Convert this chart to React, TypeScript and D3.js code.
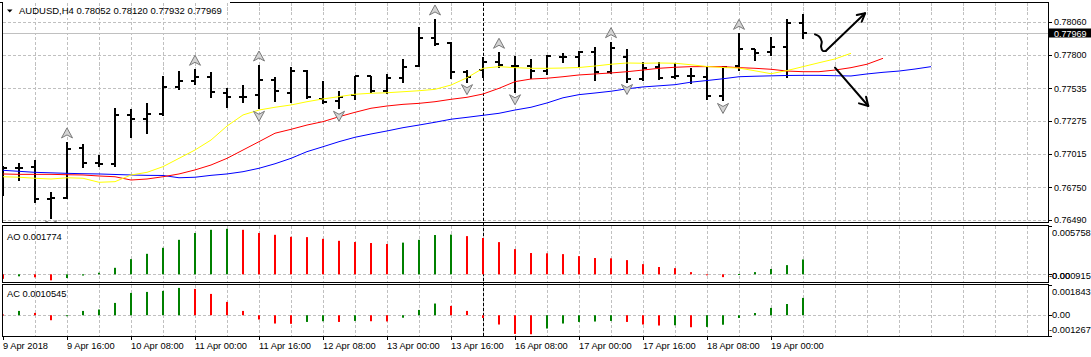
import React from 'react';
import * as d3 from 'd3';

const SYMBOL = 'AUDUSD,H4';
const TIME_LABELS = ['9 Apr 2018', '9 Apr 16:00', '10 Apr 08:00', '11 Apr 00:00', '11 Apr 16:00', '12 Apr 08:00', '13 Apr 00:00', '13 Apr 16:00', '16 Apr 08:00', '17 Apr 00:00', '17 Apr 16:00', '18 Apr 08:00', '19 Apr 00:00'];
const TIME_LABEL_STEP = 4;
const PRICE_TICKS = [0.78060, 0.77800, 0.77535, 0.77275, 0.77015, 0.76750, 0.76490];

const OPEN = [0.76887,0.76902,0.76910,0.76657,0.76665,0.77061,0.76942,0.76934,0.77323,0.77291,0.77327,0.77545,0.77595,0.77624,0.77497,0.77465,0.77481,0.77600,0.77497,0.77671,0.77450,0.77434,0.77481,0.77632,0.77515,0.77618,0.77714,0.77931,0.77894,0.77666,0.77679,0.77745,0.77714,0.77711,0.77674,0.77780,0.77780,0.77820,0.77666,0.77785,0.77608,0.77706,0.77622,0.77632,0.77626,0.77476,0.77714,0.77844,0.77820,0.77864,0.78052];
const HIGH = [0.76918,0.76942,0.76966,0.76714,0.77109,0.77093,0.77005,0.77376,0.77374,0.77415,0.77632,0.77671,0.77685,0.77666,0.77534,0.77560,0.77719,0.77624,0.77706,0.77679,0.77592,0.77515,0.77632,0.77632,0.77648,0.77764,0.78023,0.78084,0.77904,0.77679,0.77785,0.77820,0.77790,0.77764,0.77798,0.77817,0.77832,0.77864,0.77904,0.77844,0.77745,0.77745,0.77737,0.77693,0.77706,0.77711,0.77970,0.77844,0.77939,0.78081,0.78120];
const LOW = [0.76688,0.76807,0.76635,0.76508,0.76661,0.76914,0.76922,0.76918,0.77151,0.77182,0.77319,0.77526,0.77566,0.77468,0.77388,0.77428,0.77376,0.77434,0.77428,0.77455,0.77415,0.77376,0.77447,0.77507,0.77499,0.77587,0.77711,0.77878,0.77614,0.77587,0.77622,0.77706,0.77507,0.77614,0.77648,0.77745,0.77706,0.77600,0.77653,0.77588,0.77600,0.77606,0.77614,0.77579,0.77446,0.77438,0.77679,0.77759,0.77798,0.77626,0.77932];
const CLOSE = [0.76902,0.76902,0.76657,0.76665,0.77053,0.76944,0.76934,0.77323,0.77291,0.77328,0.77542,0.77592,0.77626,0.77505,0.77468,0.77468,0.77600,0.77515,0.77671,0.77463,0.77426,0.77468,0.77632,0.77515,0.77614,0.77706,0.77931,0.77883,0.77666,0.77626,0.77745,0.77719,0.77714,0.77674,0.77790,0.77780,0.77820,0.77666,0.77851,0.77606,0.77693,0.77614,0.77632,0.77632,0.77476,0.77706,0.77844,0.77817,0.77859,0.78050,0.77969];

// Alligator lines, one value per time slot from the first bar (they run past the last bar)
const LIPS = [0.76833,0.76829,0.76821,0.76815,0.76825,0.76821,0.76789,0.76794,0.76847,0.76868,0.76913,0.76979,0.77045,0.77124,0.77235,0.77323,0.77362,0.77384,0.77402,0.77428,0.77450,0.77468,0.77487,0.77495,0.77499,0.77507,0.77515,0.77526,0.77560,0.77618,0.77693,0.77706,0.77698,0.77693,0.77693,0.77695,0.77699,0.77711,0.77725,0.77735,0.77733,0.77735,0.77733,0.77721,0.77707,0.77699,0.77695,0.77673,0.77650,0.77675,0.77706,0.77737,0.77767,0.77812];
const TEETH = [0.76855,0.76852,0.76852,0.76852,0.76849,0.76847,0.76839,0.76833,0.76807,0.76815,0.76833,0.76855,0.76887,0.76926,0.76979,0.77045,0.77111,0.77178,0.77209,0.77243,0.77270,0.77309,0.77344,0.77376,0.77394,0.77407,0.77415,0.77428,0.77447,0.77463,0.77489,0.77534,0.77587,0.77608,0.77614,0.77626,0.77640,0.77648,0.77656,0.77666,0.77679,0.77693,0.77701,0.77706,0.77706,0.77706,0.77698,0.77693,0.77685,0.77671,0.77666,0.77666,0.77679,0.77698,0.77725,0.77772];
const JAW = [0.76884,0.76876,0.76868,0.76864,0.76860,0.76857,0.76855,0.76851,0.76847,0.76844,0.76843,0.76825,0.76829,0.76844,0.76855,0.76873,0.76900,0.76936,0.76979,0.77032,0.77071,0.77111,0.77146,0.77172,0.77196,0.77222,0.77243,0.77265,0.77289,0.77304,0.77320,0.77336,0.77362,0.77384,0.77418,0.77459,0.77484,0.77497,0.77511,0.77530,0.77545,0.77554,0.77563,0.77583,0.77596,0.77610,0.77626,0.77630,0.77633,0.77636,0.77637,0.77637,0.77634,0.77632,0.77648,0.77661,0.77671,0.77687,0.77706];

const AO = [-0.000536,-0.000238,-0.000357,-0.000715,-0.000441,-0.000143,0.000191,0.000775,0.001811,0.002443,0.003158,0.004111,0.004921,0.005303,0.005422,0.005303,0.004921,0.004707,0.004469,0.004433,0.004230,0.003992,0.003849,0.003730,0.003611,0.003777,0.004111,0.004683,0.004731,0.004552,0.004326,0.003837,0.003003,0.002538,0.002502,0.002407,0.002169,0.001942,0.001907,0.001692,0.001215,0.000870,0.000739,0.000262,-0.000071,-0.000334,0.000036,0.000262,0.000632,0.001096,0.001774];
const AC = [0.000049,0.000262,0.000140,-0.000305,-0.000024,0.000262,0.000348,0.000750,0.001360,0.001421,0.001482,0.001665,0.001604,0.001299,0.000811,0.000262,-0.000262,-0.000506,-0.000524,-0.000409,-0.000366,-0.000409,-0.000348,-0.000366,-0.000378,-0.000152,0.000323,0.000713,0.000567,0.000262,-0.000165,-0.000567,-0.001140,-0.001159,-0.000811,-0.000506,-0.000409,-0.000384,-0.000348,-0.000409,-0.000567,-0.000628,-0.000610,-0.000732,-0.000713,-0.000579,-0.000165,0.000134,0.000445,0.000683,0.0010545];
const AO_RANGE = [-0.000915, 0.005758];
const AC_RANGE = [-0.001267, 0.001843];

const FRACTAL_UP = [4, 12, 16, 27, 31, 38, 46];
const FRACTAL_DOWN = [3, 16, 21, 29, 32, 39, 45];
const SEPARATOR_BAR = 30;

// hand-drawn annotations in [bar index, price]
const ANNOT_CURVE = [[50.75, 0.77962], [51.02, 0.77943], [51.17, 0.77904], [51.13, 0.77864], [51.23, 0.77832], [51.42, 0.77830]];
const ANNOT_UP = [[51.42, 0.77830], [53.88, 0.78129]];
const ANNOT_UP_HEAD = [[53.36, 0.78116], [53.88, 0.78129], [53.67, 0.78062]];
const ANNOT_DOWN = [[52.0, 0.77698], [54.08, 0.77394]];
const ANNOT_DOWN_HEAD = [[53.5, 0.77415], [54.08, 0.77394], [53.94, 0.77468]];

const FONT = 'Liberation Sans, Arial, sans-serif';

export default function App() {
  const left = 2.5, right = 1048.5;
  const mainTop = 2.5, mainBottom = 222.5;
  const aoTop = 225.5, aoBottom = 282;
  const acTop = 284.5, acBottom = 336;
  const last = CLOSE.length - 1;

  const x = d3.scaleLinear().domain([0, 50]).range([3, 803]);
  const y = d3.scaleLinear().domain([0.76490, 0.78060]).range([220, 22]);
  const yAO = d3.scaleLinear().domain(AO_RANGE).range([282, 226]);
  const yAC = d3.scaleLinear().domain(AC_RANGE).range([336, 285]);

  const line = d3.line<number>().x((_, i) => x(i)).y((d) => y(d));
  const annot = d3.line<number[]>().x((d) => x(d[0])).y((d) => y(d[1]));
  const annotCurve = d3.line<number[]>().x((d) => x(d[0])).y((d) => y(d[1])).curve(d3.curveCatmullRom);

  const gridX: number[] = [];
  for (let k = 2; x(k) < right - 5; k += 2) gridX.push(x(k));

  const r = (v: number) => Math.round(v);

  const bars = CLOSE.map((c, i) => {
    const xi = x(i);
    return `M${xi},${r(y(HIGH[i])) - 0.5}V${r(y(LOW[i])) + 0.5}M${xi - 4},${r(y(OPEN[i]))}H${xi}M${xi},${r(y(CLOSE[i]))}H${xi + 4}`;
  }).join('');

  const arrowUp = (cx: number, cy: number) => `M${cx},${cy - 5}L${cx + 5.5},${cy + 5}L${cx},${cy + 2}L${cx - 5.5},${cy + 5}Z`;
  const arrowDown = (cx: number, cy: number) => `M${cx},${cy + 5}L${cx + 5.5},${cy - 5}L${cx},${cy - 2}L${cx - 5.5},${cy - 5}Z`;

  const hist = (vals: number[], ys: d3.ScaleLinear<number, number>, key: string) => {
    const z = ys(0);
    return vals.map((v, i) => {
      const yv = ys(v);
      const top = Math.min(z, yv);
      const h = Math.max(1, Math.abs(yv - z));
      const up = i > 0 && v > vals[i - 1];
      return <rect key={key + i} x={x(i) - 1} y={top} width={2} height={h} fill={up ? '#008000' : '#ff0000'} />;
    });
  };

  const gridColor = '#c0c0c0';
  const dash = '3,2';

  return (
    <svg width={1091} height={357} style={{ position: 'absolute', left: 0, top: 0, background: '#fff' }} fontFamily={FONT}>
      <defs>
        <clipPath id="mainClip"><rect x={3} y={3} width={1045} height={219} /></clipPath>
        <clipPath id="aoClip"><rect x={3} y={226} width={1045} height={56} /></clipPath>
        <clipPath id="acClip"><rect x={3} y={285} width={1045} height={51} /></clipPath>
      </defs>
      <rect x={0} y={0} width={1091} height={357} fill="#fff" />

      {/* grids */}
      <g stroke={gridColor} strokeWidth={1} strokeDasharray={dash} shapeRendering="crispEdges">
        {gridX.map((gx, i) => (
          <g key={'gx' + i}>
            <line x1={gx + 0.5} x2={gx + 0.5} y1={mainTop} y2={mainBottom} />
            <line x1={gx + 0.5} x2={gx + 0.5} y1={aoTop} y2={aoBottom} />
            <line x1={gx + 0.5} x2={gx + 0.5} y1={acTop} y2={acBottom} />
          </g>
        ))}
        {PRICE_TICKS.map((p, i) => (
          <line key={'gy' + i} x1={left} x2={right} y1={r(y(p)) + 0.5} y2={r(y(p)) + 0.5} />
        ))}
        <line x1={left} x2={right} y1={r(yAO(0)) + 0.5} y2={r(yAO(0)) + 0.5} />
        <line x1={left} x2={right} y1={r(yAC(0)) + 0.5} y2={r(yAC(0)) + 0.5} />
      </g>

      {/* bid line */}
      <line x1={left} x2={right} y1={r(y(CLOSE[last])) + 0.5} y2={r(y(CLOSE[last])) + 0.5} stroke="#c0c0c0" strokeWidth={1} />

      {/* separator */}
      <line x1={x(SEPARATOR_BAR) + 0.5} x2={x(SEPARATOR_BAR) + 0.5} y1={mainTop} y2={acBottom} stroke="#000" strokeWidth={1} strokeDasharray={dash} shapeRendering="crispEdges" />

      <g clipPath="url(#mainClip)">
        <path d={bars} stroke="#000" strokeWidth={2} fill="none" shapeRendering="crispEdges" />
        <path d={line(JAW) || ''} stroke="#0000ff" strokeWidth={1} fill="none" />
        <path d={line(TEETH) || ''} stroke="#ff0000" strokeWidth={1} fill="none" />
        <path d={line(LIPS) || ''} stroke="#ffff00" strokeWidth={1} fill="none" />
        {FRACTAL_UP.map((i) => (
          <path key={'fu' + i} d={arrowUp(x(i), y(HIGH[i]) - 9)} fill="#d4d4d4" stroke="#7a7a7a" strokeWidth={1} />
        ))}
        {FRACTAL_DOWN.map((i) => (
          <path key={'fd' + i} d={arrowDown(x(i), y(LOW[i]) + 8)} fill="#d4d4d4" stroke="#7a7a7a" strokeWidth={1} />
        ))}
        <g stroke="#000" strokeWidth={2} fill="none" strokeLinecap="round" strokeLinejoin="round">
          <path d={annotCurve(ANNOT_CURVE) || ''} />
          <path d={annot(ANNOT_UP) || ''} />
          <path d={annot(ANNOT_UP_HEAD) || ''} />
          <path d={annot(ANNOT_DOWN) || ''} />
          <path d={annot(ANNOT_DOWN_HEAD) || ''} />
        </g>
      </g>

      <g clipPath="url(#aoClip)">{hist(AO, yAO, 'ao')}</g>
      <g clipPath="url(#acClip)">{hist(AC, yAC, 'ac')}</g>

      {/* frames */}
      <g stroke="#000" strokeWidth={1} fill="none" shapeRendering="crispEdges">
        <path d={`M230,${mainTop}H${right}V${mainBottom}H${left}V${mainTop}H0`} />
        <rect x={left} y={aoTop} width={right - left} height={aoBottom - aoTop} />
        <rect x={left} y={acTop} width={right - left} height={acBottom - acTop} />
      </g>
      <rect x={0} y={0} width={230} height={2} fill="#fff" />

      {/* header */}
      <path d="M7,9.5H12.5L9.75,12.5Z" fill="#000" />
      <text x={19} y={14} fontSize={9.5} fill="#000">
        {`${SYMBOL}  ${OPEN[last].toFixed(5)} ${HIGH[last].toFixed(5)} ${LOW[last].toFixed(5)} ${CLOSE[last].toFixed(5)}`}
      </text>

      {/* price axis */}
      <g fontSize={9} fill="#000">
        {PRICE_TICKS.map((p, i) => (
          <g key={'pt' + i}>
            <line x1={right} x2={right + 3} y1={r(y(p)) + 0.5} y2={r(y(p)) + 0.5} stroke="#000" shapeRendering="crispEdges" />
            <text x={1054} y={y(p) + 3.3}>{p.toFixed(5)}</text>
          </g>
        ))}
      </g>
      <rect x={1049} y={r(y(CLOSE[last])) - 4.5} width={42} height={9} fill="#000" />
      <text x={1054} y={y(CLOSE[last]) + 3.3} fontSize={9} fill="#fff">{CLOSE[last].toFixed(5)}</text>

      {/* sub-window labels */}
      <text x={7} y={239.5} fontSize={9.3} fill="#000">{`AO ${AO[last].toFixed(6)}`}</text>
      <text x={7} y={297} fontSize={9.3} fill="#000">{`AC ${AC[last].toFixed(7)}`}</text>
      <g fontSize={9.3} fill="#000">
        <text x={1052} y={236.3}>{AO_RANGE[1].toFixed(6)}</text>
        <text x={1049} y={279.3}>{AO_RANGE[0].toFixed(6)}</text>
        <text x={1052} y={279.3}>{(0).toFixed(2)}</text>
        <text x={1052} y={295}>{AC_RANGE[1].toFixed(6)}</text>
        <text x={1052} y={318.3}>{(0).toFixed(2)}</text>
        <text x={1049} y={333.3}>{AC_RANGE[0].toFixed(6)}</text>
      </g>
      <g stroke="#000" shapeRendering="crispEdges">
        {[yAO(AO_RANGE[1]), yAO(0), yAC(AC_RANGE[1]), yAC(0), yAC(AC_RANGE[0])].map((ty, i) => (
          <line key={'st' + i} x1={right} x2={right + 3} y1={r(ty) + 0.5} y2={r(ty) + 0.5} />
        ))}
      </g>

      {/* time axis */}
      <g fontSize={9.3} fill="#000">
        {TIME_LABELS.map((t, i) => (
          <g key={'tl' + i}>
            <line x1={x(i * TIME_LABEL_STEP) + 0.5} x2={x(i * TIME_LABEL_STEP) + 0.5} y1={acBottom} y2={acBottom + 4} stroke="#000" shapeRendering="crispEdges" />
            <text x={x(i * TIME_LABEL_STEP)} y={348.5}>{t}</text>
          </g>
        ))}
      </g>
    </svg>
  );
}
